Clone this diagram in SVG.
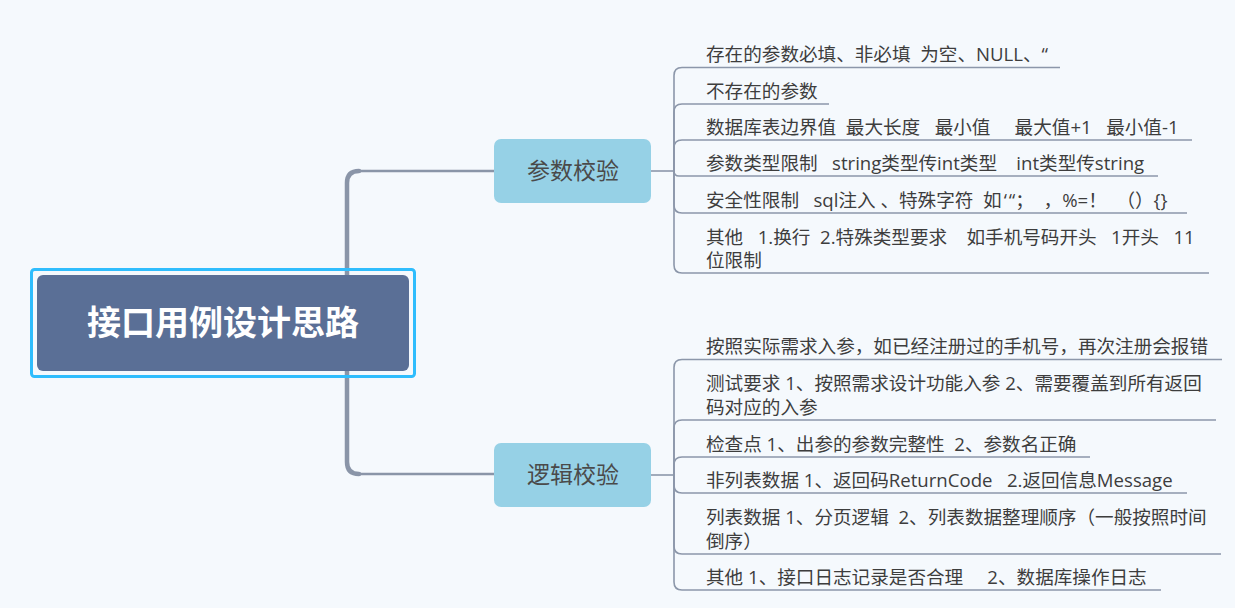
<svg xmlns="http://www.w3.org/2000/svg" width="1235" height="608" viewBox="0 0 1235 608">
<style>
text{font-family:"Open Sans","Noto Sans CJK SC",sans-serif;white-space:pre}
.leaf{font-size:18.6px;fill:#3d3d3d}
.br{font-size:23px;fill:#4a4a4a;text-anchor:middle}
.root{font-size:34px;font-weight:bold;fill:#ffffff;text-anchor:middle;font-family:"Noto Sans CJK SC",sans-serif}
.brbox{fill:#96d1e6}
.main{fill:none;stroke:#8a95a8;stroke-linecap:round}
.sub{fill:none;stroke:#8c97aa;stroke-width:1.6}
</style>
<rect width="1235" height="608" fill="#f5f9fd"/>
<g id="connectors">
<path class="main" stroke-width="4.5" d="M347,323 V183 Q347,171 359,171"/>
<path class="main" stroke-width="2.5" d="M357,171 H495"/>
<path class="main" stroke-width="4.5" d="M347,323 V462 Q347,474 359,474"/>
<path class="main" stroke-width="2.5" d="M357,474 H495"/>
<path class="sub" d="M651,171 H674"/>
<path class="sub" d="M674,171 V75.5 Q674,67.5 682,67.5 H1060"/>
<path class="sub" d="M674,171 V112 Q674,104 682,104 H829"/>
<path class="sub" d="M674,171 V148 Q674,140 682,140 H1192"/>
<path class="sub" d="M674,171 Q674,176 679,176 H1158"/>
<path class="sub" d="M674,171 V205 Q674,213 682,213 H1187"/>
<path class="sub" d="M674,171 V265 Q674,273 682,273 H1209"/>
<path class="sub" d="M651,475 H674"/>
<path class="sub" d="M674,475 V367.5 Q674,359.5 682,359.5 H1222"/>
<path class="sub" d="M674,475 V428 Q674,420 682,420 H1216"/>
<path class="sub" d="M674,475 V465 Q674,457 682,457 H1090"/>
<path class="sub" d="M674,475 V485 Q674,493 682,493 H1187"/>
<path class="sub" d="M674,475 V546 Q674,554 682,554 H1221"/>
<path class="sub" d="M674,475 V582 Q674,590 682,590 H1161"/>
</g>
<g id="root">
<rect x="31.5" y="269.5" width="383" height="107" rx="3" fill="none" stroke="#2fbdfd" stroke-width="3"/>
<rect x="37" y="275" width="372" height="96" rx="6" fill="#5a6f96"/>
<text class="root" x="223" y="335">接口用例设计思路</text>
</g>
<g id="branch1">
<rect class="brbox" x="494" y="139" width="157" height="64" rx="7"/>
<text class="br" x="573" y="179">参数校验</text>
</g>
<g id="branch2">
<rect class="brbox" x="494" y="443" width="157" height="64" rx="7"/>
<text class="br" x="573" y="483">逻辑校验</text>
</g>
<g id="leaf1-1"><text class="leaf" x="706" y="61">存在的参数必填、非必填  为空、NULL、“</text></g>
<g id="leaf1-2"><text class="leaf" x="706" y="98">不存在的参数</text></g>
<g id="leaf1-3"><text class="leaf" x="706" y="134">数据库表边界值  最大长度   最小值     最大值+1   最小值-1</text></g>
<g id="leaf1-4"><text class="leaf" x="706" y="170">参数类型限制   string类型传int类型    int类型传string</text></g>
<g id="leaf1-5"><text class="leaf" x="706" y="207">安全性限制   sql注入 、特殊字符  如<tspan dx="2">‘</tspan><tspan dx="2">“</tspan>；  ，%=！  （）{}</text></g>
<g id="leaf1-6"><text class="leaf" x="706" y="244">其他   1.换行  2.特殊类型要求    如手机号码开头   1开头   11</text><text class="leaf" x="706" y="267">位限制</text></g>
<g id="leaf2-1"><text class="leaf" x="706" y="353">按照实际需求入参，如已经注册过的手机号，再次注册会报错</text></g>
<g id="leaf2-2"><text class="leaf" x="706" y="390">测试要求 1、按照需求设计功能入参 2、需要覆盖到所有返回</text><text class="leaf" x="706" y="414">码对应的入参</text></g>
<g id="leaf2-3"><text class="leaf" x="706" y="451">检查点 1、出参的参数完整性  2、参数名正确</text></g>
<g id="leaf2-4"><text class="leaf" x="706" y="487">非列表数据 1、返回码ReturnCode   2.返回信息Message</text></g>
<g id="leaf2-5"><text class="leaf" x="706" y="524">列表数据 1、分页逻辑  2、列表数据整理顺序（一般按照时间</text><text class="leaf" x="706" y="548">倒序）</text></g>
<g id="leaf2-6"><text class="leaf" x="706" y="584">其他 1、接口日志记录是否合理     2、数据库操作日志</text></g>
</svg>
